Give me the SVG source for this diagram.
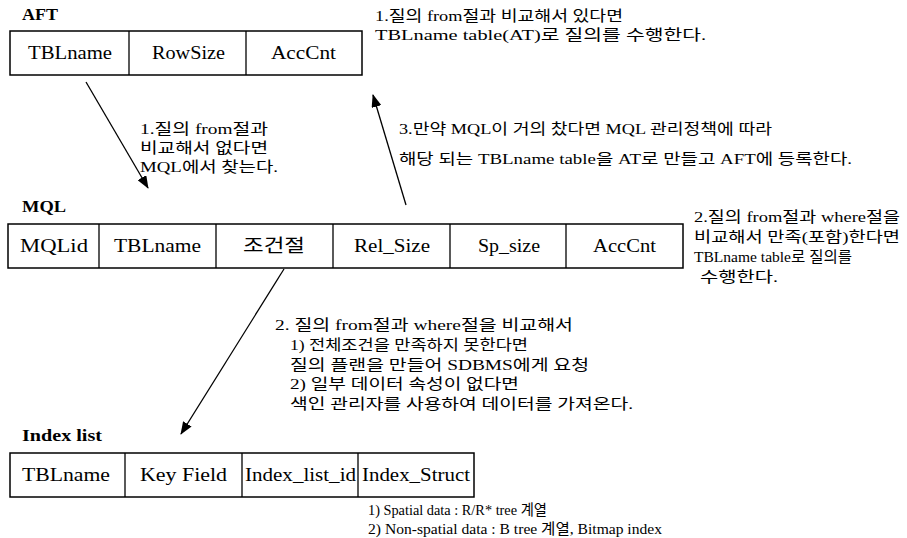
<svg xmlns="http://www.w3.org/2000/svg" width="907" height="538" viewBox="0 0 907 538">
<defs>
<marker id="ah" viewBox="0 0 13 10" refX="12" refY="5" markerWidth="13" markerHeight="10" markerUnits="userSpaceOnUse" orient="auto">
<path d="M0,0 L13,5 L0,10 Z" fill="#000"/>
</marker>
<style>
text{font-family:"Liberation Serif","Noto Sans CJK KR",serif;fill:#000}
.t{font-size:18px}
.h{font-size:17px;font-weight:bold}
.n{font-size:15px}
.c{fill:#fff;stroke:#000;stroke-width:1.5}
.e{stroke:#000;stroke-width:1.3;fill:none}
</style>
</defs>
<rect width="907" height="538" fill="#fff"/>

<g id="aft">
<text class="h" x="22" y="20" textLength="36" lengthAdjust="spacingAndGlyphs">AFT</text>
<rect class="c" x="10" y="31" width="352" height="44"/>
<line class="e" x1="129" y1="31" x2="129" y2="75"/>
<line class="e" x1="246" y1="31" x2="246" y2="75"/>
<text class="t" x="28" y="59" textLength="84" lengthAdjust="spacingAndGlyphs">TBLname</text>
<text class="t" x="152" y="59" textLength="73" lengthAdjust="spacingAndGlyphs">RowSize</text>
<text class="t" x="271" y="59" textLength="65" lengthAdjust="spacingAndGlyphs">AccCnt</text>
</g>

<g id="aft-note">
<text class="n" x="375" y="21" textLength="248" lengthAdjust="spacingAndGlyphs">1.질의 from절과 비교해서 있다면</text>
<text class="n" x="375" y="40" textLength="331" lengthAdjust="spacingAndGlyphs">TBLname table(AT)로 질의를 수행한다.</text>
</g>

<g id="mql">
<text class="h" x="22" y="212" textLength="44" lengthAdjust="spacingAndGlyphs">MQL</text>
<rect class="c" x="8" y="224" width="675" height="44"/>
<line class="e" x1="99" y1="224" x2="99" y2="268"/>
<line class="e" x1="216" y1="224" x2="216" y2="268"/>
<line class="e" x1="333" y1="224" x2="333" y2="268"/>
<line class="e" x1="450" y1="224" x2="450" y2="268"/>
<line class="e" x1="566" y1="224" x2="566" y2="268"/>
<text class="t" x="20" y="252" textLength="68" lengthAdjust="spacingAndGlyphs">MQLid</text>
<text class="t" x="114" y="252" textLength="87" lengthAdjust="spacingAndGlyphs">TBLname</text>
<text class="t" x="243" y="252" textLength="62" lengthAdjust="spacingAndGlyphs">조건절</text>
<text class="t" x="354" y="252" textLength="76" lengthAdjust="spacingAndGlyphs">Rel_Size</text>
<text class="t" x="478" y="252" textLength="62" lengthAdjust="spacingAndGlyphs">Sp_size</text>
<text class="t" x="593" y="252" textLength="63" lengthAdjust="spacingAndGlyphs">AccCnt</text>
</g>

<g id="mql-note">
<text class="n" x="694" y="222" textLength="206" lengthAdjust="spacingAndGlyphs">2.질의 from절과 where절을</text>
<text class="n" x="694" y="242" textLength="206" lengthAdjust="spacingAndGlyphs">비교해서 만족(포함)한다면</text>
<text class="n" x="694" y="262" textLength="158" lengthAdjust="spacingAndGlyphs">TBLname table로 질의를</text>
<text class="n" x="700" y="282" textLength="78" lengthAdjust="spacingAndGlyphs">수행한다.</text>
</g>

<g id="index">
<text class="h" x="22" y="441" textLength="80" lengthAdjust="spacingAndGlyphs">Index list</text>
<rect class="c" x="10" y="453" width="464" height="44"/>
<line class="e" x1="125" y1="453" x2="125" y2="497"/>
<line class="e" x1="242" y1="453" x2="242" y2="497"/>
<line class="e" x1="358" y1="453" x2="358" y2="497"/>
<text class="t" x="22" y="481" textLength="88" lengthAdjust="spacingAndGlyphs">TBLname</text>
<text class="t" x="140" y="481" textLength="87" lengthAdjust="spacingAndGlyphs">Key Field</text>
<text class="t" x="245" y="481" textLength="111" lengthAdjust="spacingAndGlyphs">Index_list_id</text>
<text class="t" x="362" y="481" textLength="108" lengthAdjust="spacingAndGlyphs">Index_Struct</text>
</g>

<g id="index-note">
<text class="n" x="368" y="515" textLength="179" lengthAdjust="spacingAndGlyphs">1) Spatial data : R/R* tree 계열</text>
<text class="n" x="368" y="534" textLength="294" lengthAdjust="spacingAndGlyphs">2) Non-spatial data : B tree 계열, Bitmap index</text>
</g>

<g id="label1">
<text class="n" x="140" y="134" textLength="128" lengthAdjust="spacingAndGlyphs">1.질의 from절과</text>
<text class="n" x="140" y="153" textLength="128" lengthAdjust="spacingAndGlyphs">비교해서 없다면</text>
<text class="n" x="140" y="172" textLength="138" lengthAdjust="spacingAndGlyphs">MQL에서 찾는다.</text>
</g>

<g id="label3">
<text class="n" x="399" y="134" textLength="373" lengthAdjust="spacingAndGlyphs">3.만약 MQL이 거의 찼다면 MQL 관리정책에 따라</text>
<text class="n" x="399" y="164" textLength="453" lengthAdjust="spacingAndGlyphs">해당 되는 TBLname table을 AT로 만들고 AFT에 등록한다.</text>
</g>

<g id="label2">
<text class="n" x="275" y="330" textLength="298" lengthAdjust="spacingAndGlyphs">2. 질의 from절과 where절을 비교해서</text>
<text class="n" x="290" y="350" textLength="238" lengthAdjust="spacingAndGlyphs">1) 전체조건을 만족하지 못한다면</text>
<text class="n" x="290" y="370" textLength="299" lengthAdjust="spacingAndGlyphs">질의 플랜을 만들어 SDBMS에게 요청</text>
<text class="n" x="290" y="389" textLength="229" lengthAdjust="spacingAndGlyphs">2) 일부 데이터 속성이 없다면</text>
<text class="n" x="290" y="409" textLength="343" lengthAdjust="spacingAndGlyphs">색인 관리자를 사용하여 데이터를 가져온다.</text>
</g>

<g id="connectors">
<line class="e" x1="86" y1="82" x2="148" y2="188" marker-end="url(#ah)"/>
<line class="e" x1="406" y1="205" x2="373" y2="95" marker-end="url(#ah)"/>
<line class="e" x1="284" y1="269" x2="181" y2="434" marker-end="url(#ah)"/>
</g>
</svg>
